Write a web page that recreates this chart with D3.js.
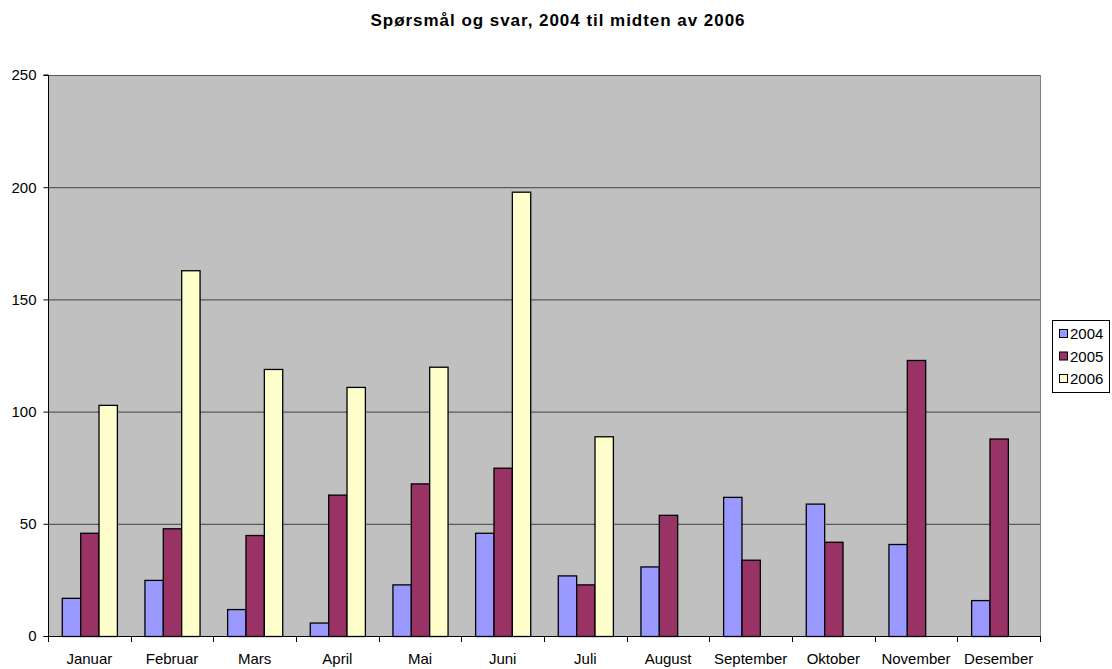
<!DOCTYPE html>
<html><head><meta charset="utf-8">
<script src="https://cdn.jsdelivr.net/npm/d3@7"></script>
<style>body{margin:0;background:#fff;} text{font-family:"Liberation Sans",Arial,sans-serif;}</style>
</head><body>
<svg id="c" width="1112" height="669"></svg>
<script>
const categories = ["Januar","Februar","Mars","April","Mai","Juni","Juli","August","September","Oktober","November","Desember"];
const seriesNames = ["2004","2005","2006"];
const values2004 = [17,25,12,6,23,46,27,31,62,59,41,16];
const values2005 = [46,48,45,63,68,75,23,54,34,42,123,88];
const values2006 = [103,163,119,111,120,198,89,null,null,null,null,null];
const yTicks = [0,50,100,150,200,250];
const colors = ["#9999FF","#993366","#FFFFCC"];
const title = "Spørsmål og svar, 2004 til midten av 2006";

const series = [values2004, values2005, values2006];
const svg = d3.select("#c");
const L=48, R=1040, T=75, B=636;
const FS = 15;
const x = d3.scaleBand().domain(categories).range([L,R]).paddingInner(0).paddingOuter(0);
const y = d3.scaleLinear().domain([0,250]).range([B,T]);
const bw = x.bandwidth();
const barW = bw/4.5;
const xs = d3.scaleBand().domain(seriesNames).range([(bw-3*barW)/2,(bw+3*barW)/2]);

svg.append("rect").attr("x",L).attr("y",T).attr("width",R-L).attr("height",B-T).attr("fill","#C0C0C0");
svg.append("g").selectAll("line").data(yTicks.filter(d=>d>0)).join("line")
  .attr("x1",L).attr("x2",R).attr("y1",d=>y(d)+0.5).attr("y2",d=>y(d)+0.5)
  .attr("stroke","#5a5a5a").attr("stroke-width",1.2);
svg.append("line").attr("x1",R+0.5).attr("x2",R+0.5).attr("y1",T).attr("y2",B).attr("stroke","#808080");

seriesNames.forEach((s,i)=>{
  const data = categories.map((c,j)=>({c,v:series[i][j]})).filter(d=>d.v!=null);
  svg.append("g").selectAll("rect").data(data).join("rect")
    .attr("x",d=>x(d.c)+xs(s)+0.5).attr("width",xs.bandwidth())
    .attr("y",d=>y(d.v)+0.5).attr("height",d=>B-y(d.v))
    .attr("fill",colors[i]).attr("stroke","#000").attr("stroke-width",1.3);
});

const ya = svg.append("g").attr("transform",`translate(${L+0.5},0)`)
  .call(d3.axisLeft(y).tickValues(yTicks).tickSize(5).tickPadding(7).tickFormat(d3.format("d")));
ya.select(".domain").attr("stroke","#000").attr("d",`M-5,${B+0.5}H0V${T}H-5`);
ya.selectAll(".tick line").attr("stroke","#000");
ya.selectAll("text").attr("font-size",FS).attr("fill","#000").attr("font-family","Liberation Sans, Arial, sans-serif");

const xa = svg.append("g").attr("transform",`translate(0,${B+0.5})`)
  .call(d3.axisBottom(x).tickSize(0).tickPadding(0));
xa.select(".domain").attr("stroke","#000").attr("d",`M${L},0H${R+0.5}`);
xa.selectAll("text").attr("font-size",FS).attr("fill","#000").attr("dy",null).attr("y",27)
  .attr("font-family","Liberation Sans, Arial, sans-serif");
svg.append("g").selectAll("line").data(d3.range(categories.length+1)).join("line")
  .attr("x1",d=>Math.round(L+d*bw)+0.5).attr("x2",d=>Math.round(L+d*bw)+0.5)
  .attr("y1",B).attr("y2",B+6).attr("stroke","#000");

const tt = svg.append("text").attr("x",558).attr("y",26).attr("text-anchor","middle")
  .attr("font-size",17).attr("font-weight","bold").text(title);
const tw = tt.node().getComputedTextLength();
const ls = (374 - tw)/(title.length-1);
if (ls > 0) tt.attr("letter-spacing", ls);

const lg = svg.append("g");
lg.append("rect").attr("x",1052.5).attr("y",320.5).attr("width",57).attr("height",72)
  .attr("fill","#fff").attr("stroke","#000");
seriesNames.forEach((s,i)=>{
  const cy = 333.5 + i*22.5;
  lg.append("rect").attr("x",1059.5).attr("y",cy-4).attr("width",8).attr("height",8)
    .attr("fill",colors[i]).attr("stroke","#000");
  lg.append("text").attr("x",1070).attr("y",cy+5.5).attr("font-size",FS).text(s);
});
</script>
</body></html>
